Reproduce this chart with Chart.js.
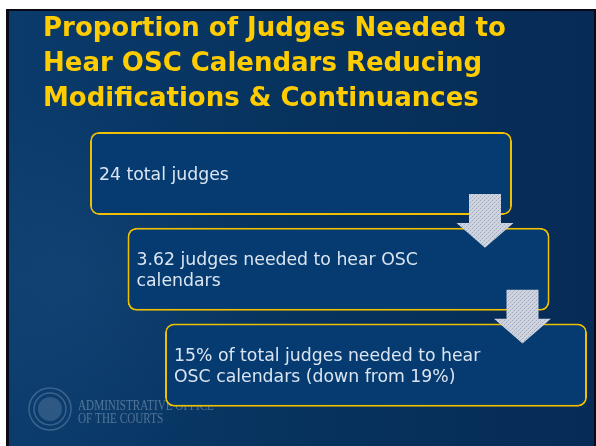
<!DOCTYPE html>
<html>
<head>
<meta charset="utf-8">
<script src="https://cdn.jsdelivr.net/npm/chart.js@4.4.1/dist/chart.umd.min.js"></script>
<style>
  html, body { margin: 0; padding: 0; background: #ffffff; }
  #slide { display: block; }
</style>
</head>
<body>
<canvas id="slide" width="596" height="446"></canvas>
<script>
// Textos y valores de la diapositiva
const tituloLineas = [
    'Proportion of Judges Needed to',
    'Hear OSC Calendars Reducing',
    'Modifications & Continuances'
];
const pasos = ['total', 'osc', 'porcentaje'];
const totalJueces = 24;
const juecesOSC = 3.62;
const porcentajeOSC = 15;
const porcentajeAnterior = 19;
const textosPasos = [
    [totalJueces + ' total judges'],
    [juecesOSC + ' judges needed to hear OSC', 'calendars'],
    [porcentajeOSC + '% of total judges needed to hear', 'OSC calendars (down from ' + porcentajeAnterior + '%)']
];
const logoLineas = ['ADMINISTRATIVE OFFICE', 'OF THE COURTS'];

// Diseño (posiciones en unidades del eje x, 1 unidad = 1px)
const CAJA_X0 = 47;
const CAJA_PASO = 37.5;
const CAJA_ANCHO = 422;

// Fondo azul de la diapositiva
const fondoPlugin = {
    id: 'fondo',
    beforeDraw(chart){
        const ctx = chart.ctx;
        ctx.save();
        ctx.fillStyle = '#ffffff';
        ctx.fillRect(0, 0, 596, 446);
        ctx.fillStyle = '#0a0a14';
        ctx.fillRect(6, 9, 590, 437);
        let g = ctx.createLinearGradient(9, 0, 594, 0);
        g.addColorStop(0, '#0a3b6c');
        g.addColorStop(0.45, '#07335f');
        g.addColorStop(1, '#062b56');
        ctx.fillStyle = g;
        ctx.fillRect(9, 11, 585, 435);
        // zona clara a la izquierda (marca de agua)
        let r = ctx.createRadialGradient(70, 280, 10, 70, 280, 190);
        r.addColorStop(0, 'rgba(30,80,130,0.35)');
        r.addColorStop(1, 'rgba(30,80,130,0)');
        ctx.fillStyle = r;
        ctx.fillRect(9, 11, 585, 435);

        // sello y texto del logo
        ctx.strokeStyle = 'rgba(170,190,215,0.3)';
        ctx.lineWidth = 1.5;
        ctx.beginPath();
        ctx.arc(50, 409, 21, 0, Math.PI * 2);
        ctx.stroke();
        ctx.beginPath();
        ctx.arc(50, 409, 16, 0, Math.PI * 2);
        ctx.stroke();
        ctx.fillStyle = 'rgba(170,190,215,0.22)';
        ctx.beginPath();
        ctx.arc(50, 409, 12, 0, Math.PI * 2);
        ctx.fill();
        ctx.fillStyle = 'rgba(180,196,218,0.42)';
        ctx.font = '14px "Liberation Serif"';
        ctx.textBaseline = 'alphabetic';
        ctx.textAlign = 'left';
        ctx.translate(78, 0);
        ctx.scale(0.8, 1);
        ctx.fillText(logoLineas[0], 0, 410);
        ctx.fillText(logoLineas[1], 0, 423);
        ctx.restore();
    }
};

// Textos dentro de las cajas
const textoPlugin = {
    id: 'textoCajas',
    afterDatasetsDraw(chart){
        const ctx = chart.ctx;
        const barras = chart.getDatasetMeta(0).data;
        ctx.save();
        ctx.fillStyle = '#dbe5f1';
        ctx.font = '17.3px "DejaVu Sans"';
        ctx.textAlign = 'left';
        ctx.textBaseline = 'alphabetic';
        const alto = 21.5;
        const cap = 6.4;
        barras.forEach(function(barra, i){
            const izq = Math.min(barra.x, barra.base);
            const lineas = textosPasos[i];
            lineas.forEach(function(linea, j){
                const y = barra.y + (j - (lineas.length - 1) / 2) * alto + cap;
                ctx.fillText(linea, izq + 9, y);
            });
        });
        ctx.restore();
    }
};

// Flechas entre cajas
function patronFlecha(ctx){
    const c = document.createElement('canvas');
    c.width = 4;
    c.height = 4;
    const p = c.getContext('2d');
    p.fillStyle = '#d0d4de';
    p.fillRect(0, 0, 4, 4);
    p.fillStyle = '#9eaac0';
    p.fillRect(0, 0, 1, 1);
    p.fillRect(2, 2, 1, 1);
    p.fillStyle = '#b8c0d2';
    p.fillRect(3, 1, 1, 1);
    p.fillRect(1, 3, 1, 1);
    return ctx.createPattern(c, 'repeat');
}

const flechaPlugin = {
    id: 'flechas',
    afterDatasetsDraw(chart){
        const ctx = chart.ctx;
        const barras = chart.getDatasetMeta(0).data;
        ctx.save();
        ctx.fillStyle = patronFlecha(ctx);
        for(let i = 0; i < barras.length - 1; i++){
            const a = barras[i];
            const b = barras[i + 1];
            const cx = Math.max(a.x, a.base) - 27;
            const abajo = a.y + a.height / 2;
            const arribaSig = b.y - b.height / 2;
            const tope = abajo - 21;
            const cabeza = abajo + 8;
            const punta = arribaSig + 20;
            ctx.beginPath();
            ctx.moveTo(cx - 16, tope);
            ctx.lineTo(cx + 16, tope);
            ctx.lineTo(cx + 16, cabeza);
            ctx.lineTo(cx + 28.5, cabeza);
            ctx.lineTo(cx, punta);
            ctx.lineTo(cx - 28.5, cabeza);
            ctx.lineTo(cx - 16, cabeza);
            ctx.closePath();
            ctx.fill();
        }
        ctx.restore();
    }
};

// Rangos de las cajas escalonadas
const rangos = pasos.map(function(p, i){
    const inicio = CAJA_X0 + i * CAJA_PASO;
    return [inicio, inicio + CAJA_ANCHO];
});

new Chart(document.getElementById('slide'), {
    type: 'bar',
    data: {
        labels: pasos,
        datasets: [{
            data: rangos,
            backgroundColor: '#053b70',
            borderColor: '#f0c000',
            borderWidth: 2,
            borderRadius: 9,
            borderSkipped: false,
            barPercentage: 0.867,
            categoryPercentage: 1
        }]
    },
    options: {
        indexAxis: 'y',
        responsive: false,
        animation: false,
        devicePixelRatio: 1,
        layout: {
            padding: { left: 43, right: 0, top: 0, bottom: 33 }
        },
        scales: {
            x: { type: 'linear', display: false, min: 0, max: 553 },
            y: { display: false }
        },
        plugins: {
            legend: { display: false },
            tooltip: { enabled: false },
            title: {
                display: true,
                text: tituloLineas,
                align: 'start',
                color: '#ffcc00',
                font: { family: '"DejaVu Sans"', size: 26, weight: 'bold', lineHeight: 1.34 },
                padding: { top: 12, bottom: 9 }
            }
        }
    },
    plugins: [fondoPlugin, textoPlugin, flechaPlugin]
});
</script>
</body>
</html>
